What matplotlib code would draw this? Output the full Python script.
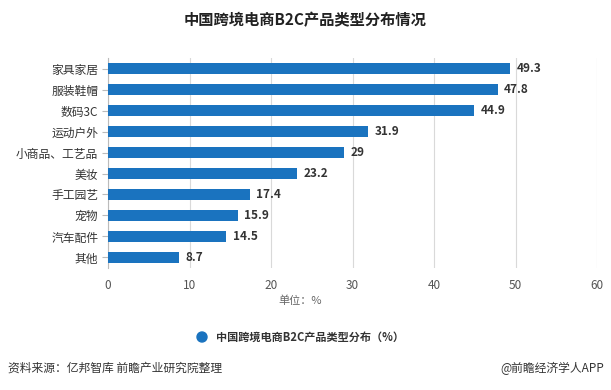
import matplotlib
matplotlib.use("Agg")
import matplotlib.pyplot as plt

plt.rcParams['font.family'] = ['Noto Sans CJK SC', 'DejaVu Sans']

categories = ['家具家居', '服装鞋帽', '数码3C', '运动户外', '小商品、工艺品',
              '美妆', '手工园艺', '宠物', '汽车配件', '其他']
values = [49.3, 47.8, 44.9, 31.9, 29, 23.2, 17.4, 15.9, 14.5, 8.7]
value_labels = ['49.3', '47.8', '44.9', '31.9', '29', '23.2', '17.4', '15.9', '14.5', '8.7']
x_ticks = [0, 10, 20, 30, 40, 50, 60]

bar_color = '#1a73bf'

fig = plt.figure(figsize=(6.11, 3.9), dpi=100)
ax = fig.add_axes([0.1768, 0.313, 0.8003, 0.538])

ypos = list(range(len(categories)))
ax.barh(ypos, values, height=0.5, color=bar_color, zorder=3)
for y, v, lab in zip(ypos, values, value_labels):
    ax.text(v + 0.8, y, lab, va='center', ha='left', fontsize=8.5,
            fontweight='bold', color='#333333')

ax.set_ylim(len(categories) - 0.5, -0.5)
ax.set_yticks(ypos)
ax.set_yticklabels(categories, fontsize=8.5, color='#333333')
ax.set_xlim(0, 60)
ax.set_xticks(x_ticks)
ax.set_xticklabels([str(t) for t in x_ticks], fontsize=8.5, color='#555555')
ax.grid(axis='x', color='#d9d9d9', linewidth=0.8, zorder=0)
for s in ['top', 'right', 'bottom']:
    ax.spines[s].set_visible(False)
ax.spines['left'].set_color('#bbbbbb')
ax.tick_params(axis='y', length=4, color='#bbbbbb', pad=3)
ax.tick_params(axis='x', length=0, pad=8)

fig.text(0.5, 0.948, '中国跨境电商B2C产品类型分布情况', ha='center', va='center',
         fontsize=11, fontweight='bold', color='#222222')
fig.text(0.491, 0.228, '单位：%', ha='center', va='center', fontsize=8, color='#666666')

# legend
fig.patches.append(matplotlib.patches.Ellipse((202 / 611, 1 - 337 / 390), 10 / 611, 10 / 390,
                                              transform=fig.transFigure, color=bar_color))
fig.text(216 / 611, 1 - 337 / 390, '中国跨境电商B2C产品类型分布（%）', ha='left', va='center',
         fontsize=8, fontweight='bold', color='#333333')

fig.text(8 / 611, 1 - 368 / 390, '资料来源：亿邦智库 前瞻产业研究院整理', ha='left', va='center',
         fontsize=8.5, color='#333333')
fig.text(604 / 611, 1 - 368 / 390, '@前瞻经济学人APP', ha='right', va='center',
         fontsize=8.5, color='#333333')

fig.savefig('out.png', dpi=100)
